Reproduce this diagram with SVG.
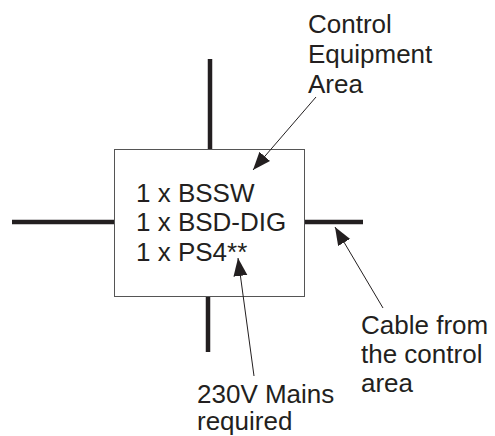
<svg xmlns="http://www.w3.org/2000/svg" width="495" height="436" viewBox="0 0 495 436">
<style>
.t{font-family:"Liberation Sans",Arial,sans-serif;font-size:26px;fill:#231f20}
.cable{stroke:#231f20;stroke-width:4.5;fill:none}
.lead{stroke:#231f20;stroke-width:1;fill:none;marker-end:url(#ah)}
</style>
<defs>
<marker id="ah" markerUnits="userSpaceOnUse" markerWidth="20" markerHeight="16" refX="18" refY="7" orient="auto">
<path d="M0,0 L18,7 L0,14 Z" fill="#231f20"/>
</marker>
</defs>
<rect width="495" height="436" fill="#fff"/>
<g id="cables">
<line class="cable" x1="210" y1="59" x2="210" y2="149"/>
<line class="cable" x1="208" y1="297" x2="208" y2="352"/>
<line class="cable" x1="12" y1="222" x2="114" y2="222"/>
<line class="cable" x1="305" y1="222" x2="363" y2="222"/>
</g>
<g id="box">
<rect x="114.5" y="149.5" width="190" height="147" fill="none" stroke="#555" stroke-width="1"/>
<text class="t" x="136" y="202">1 x BSSW</text>
<text class="t" x="136" y="231">1 x BSD-DIG</text>
<text class="t" x="136" y="261">1 x PS4**</text>
</g>
<g id="label-control">
<text class="t" x="308" y="33">Control</text>
<text class="t" x="308" y="63">Equipment</text>
<text class="t" x="308" y="93">Area</text>
</g>
<g id="label-cable">
<text class="t" x="361" y="334">Cable from</text>
<text class="t" x="361" y="363">the control</text>
<text class="t" x="361" y="392">area</text>
</g>
<g id="label-mains">
<text class="t" x="197" y="403">230V Mains</text>
<text class="t" x="197" y="430">required</text>
</g>
<g id="connectors">
<line class="lead" x1="316" y1="97" x2="253" y2="170"/>
<line class="lead" x1="383" y1="308" x2="335" y2="227"/>
<line class="lead" x1="254" y1="376" x2="238" y2="258"/>
</g>
</svg>
